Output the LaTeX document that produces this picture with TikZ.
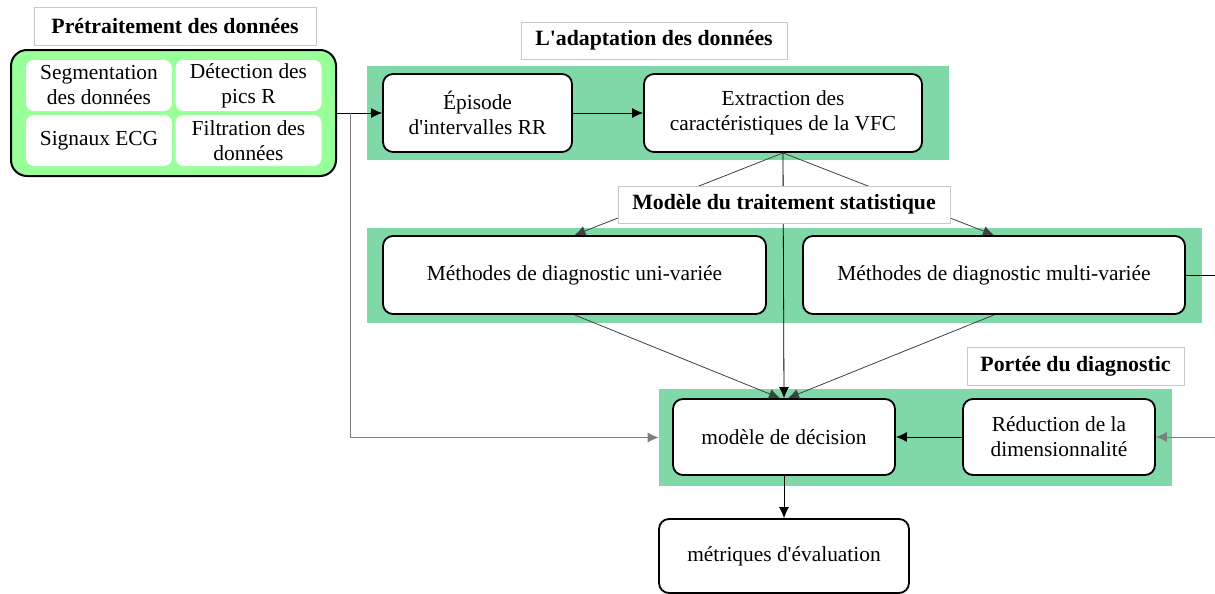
\documentclass[tikz,border=0pt]{standalone}
\usepackage{fontspec}
\setmainfont{Liberation Serif}
\usetikzlibrary{positioning}
\usetikzlibrary{arrows.meta}

\definecolor{bandgreen}{RGB}{128,216,168}
\definecolor{lightgreen}{RGB}{153,255,153}
\definecolor{titlegray}{RGB}{200,200,200}
\definecolor{linegray}{RGB}{125,125,125}

\tikzset{
  box/.style={draw,line width=0.9pt,rounded corners=5pt,fill=white,align=center,inner sep=0pt,font=\fontsize{10.7}{12.5}\selectfont},
  cell/.style={fill=white,rounded corners=4pt,align=center,inner sep=0pt,minimum width=73pt,minimum height=25.5pt,font=\fontsize{10.7}{12.5}\selectfont},
  band/.style={fill=bandgreen,inner sep=0pt},
  heading/.style={draw=titlegray,line width=0.5pt,fill=white,inner sep=0pt,font=\bfseries\fontsize{10.9}{12.5}\selectfont},
  arr/.style={-{Latex[length=5.5pt,width=5pt]}},
}

\begin{document}
\begin{tikzpicture}[x=0.5pt,y=-0.5pt]
\useasboundingbox (0,0) rectangle (1215,594);

% green bands
\node[band,minimum width=291pt,minimum height=47pt] (band1) at (658,113) {};
\node[band,minimum width=417.5pt,minimum height=47.5pt] (band2) at (784.5,275.5) {};
\node[band,minimum width=256.5pt,minimum height=48.5pt] (band3) at (915.5,437.5) {};

% preprocessing block
\node[draw,line width=1pt,rounded corners=8pt,fill=lightgreen,minimum width=162.5pt,minimum height=63pt] (preframe) at (173.5,113) {};
\node[cell] (seg) at (99,85.5) {Segmentation\\des données};
\node[cell] (det) at (248.5,85.5) {Détection des\\pics R};
\node[cell] (sig) at (99,140.5) {Signaux ECG};
\node[cell] (fil) at (248.5,140.5) {Filtration des\\données};
\node[heading,minimum width=141pt,minimum height=19pt] (pretitle) at (175,26.5) {Prétraitement des données};

% adaptation
\node[box,minimum width=94.5pt,minimum height=39pt] (episode) at (477.5,113) {Épisode\\d\textquotesingle intervalles RR};
\node[box,minimum width=139pt,minimum height=39pt] (extraction) at (783,113) {Extraction des\\caractéristiques de la VFC};
\node[heading,minimum width=133pt,minimum height=18.5pt] (adapttitle) at (654,40.5) {L\textquotesingle adaptation des données};

% statistics
\node[box,minimum width=191.5pt,minimum height=39pt] (uni) at (574.5,275) {Méthodes de diagnostic uni-variée};
\node[box,minimum width=191pt,minimum height=39pt] (multi) at (994,275) {Méthodes de diagnostic multi-variée};

% decision
\node[box,minimum width=111pt,minimum height=38pt] (modele) at (784,437) {modèle de décision};
\node[box,minimum width=96pt,minimum height=38pt] (reduction) at (1059,437) {Réduction de la\\dimensionnalité};
\node[box,minimum width=125pt,minimum height=37pt] (metriques) at (784,556) {métriques d\textquotesingle évaluation};

\coordinate (split) at (350,113);
\coordinate (outmulti) at (1215,275);
\coordinate (inred) at (1215,437);

% connectors
\draw[arr] (preframe.east) -- (episode.west);
\draw[arr,linegray] (split) |- (band3.west);
\draw[arr] (episode) -- (extraction);
\draw[arr,black!75] (extraction.south) -- (uni.north);
\draw[arr,black!75] (extraction.south) -- (multi.north);
\draw[arr] (extraction.south) -- (modele.north);
\draw[arr,black!75] (uni.south) -- ([xshift=-2pt]modele.north);
\draw[arr,black!75] (multi.south) -- ([xshift=2pt]modele.north);
\draw (multi.east) -- (outmulti);
\draw[arr,linegray] (inred) -- (reduction.east);
\draw[arr] (reduction.west) -- (modele.east);
\draw[arr] (modele.south) -- (metriques.north);

\node[heading,minimum width=166pt,minimum height=18.5pt] (stattitle) at (784,204.5) {Modèle du traitement statistique};
\node[heading,minimum width=108.5pt,minimum height=19pt] (scopetitle) at (1075.5,366) {Portée du diagnostic};
\end{tikzpicture}
\end{document}
